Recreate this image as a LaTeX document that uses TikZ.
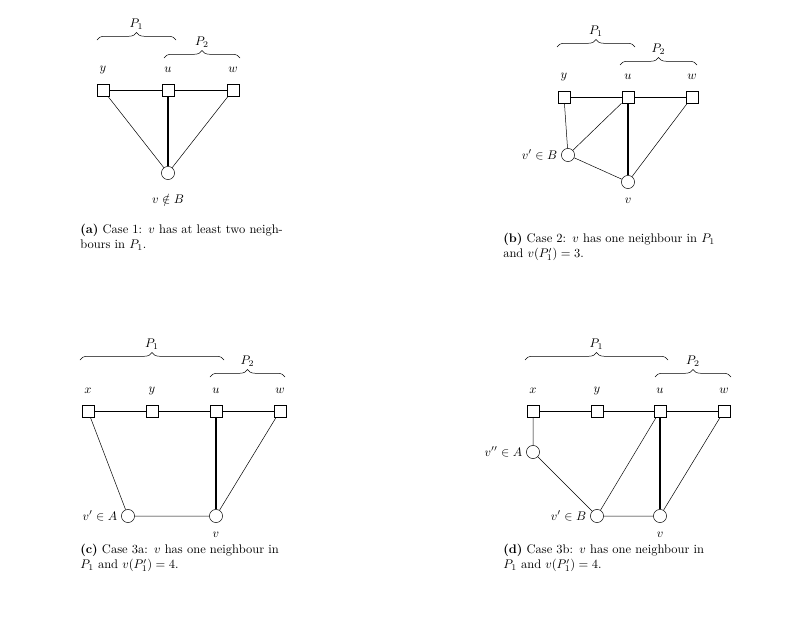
\documentclass[tikz,border=0pt]{standalone}
\usepackage{amsmath,amssymb}
\usetikzlibrary{decorations.pathreplacing}
\tikzset{
  sq/.style = {rectangle, draw, fill=white, minimum size=10pt, inner sep=0pt},
  cir/.style = {circle, draw, fill=white, minimum size=10.5pt, inner sep=0pt},
  lab/.style = {inner sep=1pt},
  brc/.style = {decorate, decoration={brace,amplitude=6pt}},
  captxt/.style = {anchor=north west, align=left, inner sep=0pt, text width=210pt}
}
\begin{document}
\begin{tikzpicture}[x=0.8pt, y=-0.8pt]
\useasboundingbox (0,0) rectangle (805,630);
% (a)
\node [sq] (ay) at (103,90) {};
\node [sq] (au) at (168,90) {};
\node [sq] (aw) at (233,90) {};
\node [cir] (av) at (168,173) {};
\node [lab] at (103,70) {$y$};
\node [lab] at (168,70) {$u$};
\node [lab] at (233,70) {$w$};
\node [lab] at (168,199) {$v\notin B$};
\draw (ay) -- (au) -- (aw);
\draw (ay) -- (av) (aw) -- (av);
\draw [very thick] (au) -- (av);
\draw [brc] (97,40) -- node [above=5pt] {$P_1$} (176,40);
\draw [brc] (164,58) -- node [above=5pt] {$P_2$} (240,58);
\node [captxt] at (80,224) {\textbf{(a)} Case 1: $v$ has at least two neigh-\\bours in $P_1$.};

% (b)
\node [sq] (by) at (564,97) {};
\node [sq] (bu) at (628,97) {};
\node [sq] (bw) at (692,97) {};
\node [cir] (bv) at (628,182) {};
\node [cir] (bvp) at (568,155) {};
\node [lab] at (564,77) {$y$};
\node [lab] at (628,77) {$u$};
\node [lab] at (692,77) {$w$};
\node [lab] at (628,201) {$v$};
\node [lab, left=2pt] at (bvp.west) {$v'\in B$};
\draw (by) -- (bu) -- (bw);
\draw (by) -- (bvp) -- (bu) (bvp) -- (bv) (bw) -- (bv);
\draw [very thick] (bu) -- (bv);
\draw [brc] (557,47) -- node [above=5pt] {$P_1$} (635,47);
\draw [brc] (620,65) -- node [above=5pt] {$P_2$} (697,65);
\node [captxt] at (503,233) {\textbf{(b)} Case 2: $v$ has one neighbour in $P_1$\\and $v(P_1')=3$.};

% (c)
\node [sq] (cx) at (88,411) {};
\node [sq] (cy) at (152,411) {};
\node [sq] (cu) at (216,411) {};
\node [sq] (cw) at (280,411) {};
\node [cir] (cv) at (216,516) {};
\node [cir] (cvp) at (128,516) {};
\node [lab] at (88,391) {$x$};
\node [lab] at (152,391) {$y$};
\node [lab] at (216,391) {$u$};
\node [lab] at (280,391) {$w$};
\node [lab] at (216,535) {$v$};
\node [lab, left=2pt] at (cvp.west) {$v'\in A$};
\draw (cx) -- (cy) -- (cu) -- (cw);
\draw (cx) -- (cvp) -- (cv) (cw) -- (cv);
\draw [very thick] (cu) -- (cv);
\draw [brc] (80,360) -- node [above=5pt] {$P_1$} (224,360);
\draw [brc] (210,377) -- node [above=5pt] {$P_2$} (285,377);
\node [captxt] at (80,544) {\textbf{(c)} Case 3a: $v$ has one neighbour in\\$P_1$ and $v(P_1')=4$.};

% (d)
\node [sq] (dx) at (533,411) {};
\node [sq] (dy) at (597,411) {};
\node [sq] (du) at (660,411) {};
\node [sq] (dw) at (724,411) {};
\node [cir] (dv) at (660,516) {};
\node [cir] (dvp) at (597,516) {};
\node [cir] (dvpp) at (533,452) {};
\node [lab] at (533,391) {$x$};
\node [lab] at (597,391) {$y$};
\node [lab] at (660,391) {$u$};
\node [lab] at (724,391) {$w$};
\node [lab] at (660,535) {$v$};
\node [lab, left=2pt] at (dvp.west) {$v'\in B$};
\node [lab, left=2pt] at (dvpp.west) {$v''\in A$};
\draw (dx) -- (dy) -- (du) -- (dw);
\draw (dx) -- (dvpp) -- (dvp) -- (dv) (dvp) -- (du) (dw) -- (dv);
\draw [very thick] (du) -- (dv);
\draw [brc] (525,360) -- node [above=5pt] {$P_1$} (668,360);
\draw [brc] (655,377) -- node [above=5pt] {$P_2$} (731,377);
\node [captxt] at (503,544) {\textbf{(d)} Case 3b: $v$ has one neighbour in\\$P_1$ and $v(P_1')=4$.};
\end{tikzpicture}
\end{document}
